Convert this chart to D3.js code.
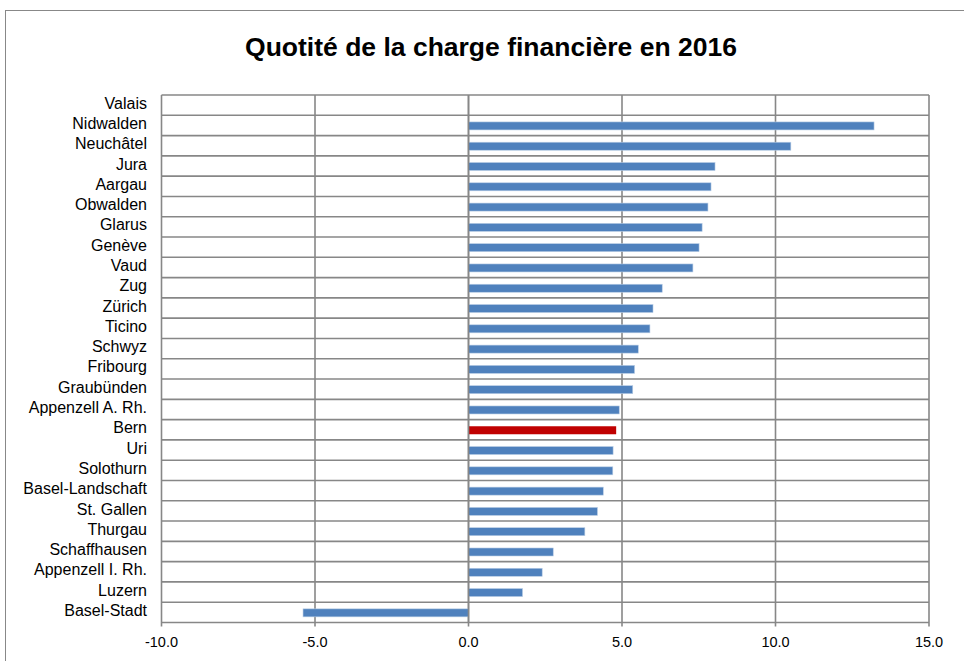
<!DOCTYPE html>
<html><head><meta charset="utf-8">
<script src="https://cdn.jsdelivr.net/npm/d3@7"></script>
<style>body{margin:0;background:#fff}svg{display:block}</style>
</head><body>
<script>
const title = "Quotité de la charge financière en 2016";
const cantons = ["Valais","Nidwalden","Neuchâtel","Jura","Aargau","Obwalden","Glarus","Genève","Vaud","Zug","Zürich","Ticino","Schwyz","Fribourg","Graubünden","Appenzell A. Rh.","Bern","Uri","Solothurn","Basel-Landschaft","St. Gallen","Thurgau","Schaffhausen","Appenzell I. Rh.","Luzern","Basel-Stadt"];
const values = [0,13.21,10.5,8.03,7.9,7.8,7.61,7.51,7.31,6.31,6.01,5.91,5.53,5.41,5.35,4.91,4.81,4.71,4.7,4.39,4.2,3.79,2.76,2.4,1.76,-5.39];
const highlight = ["Bern"];
const xTicks = [-10,-5,0,5,10,15];

const W=964,H=661;
const FONT="Liberation Sans, Arial, sans-serif";
const svg=d3.select("body").append("svg").attr("width",W).attr("height",H);
svg.append("rect").attr("x",5.5).attr("y",10.5).attr("width",W).attr("height",H).attr("fill","#fff").attr("stroke","#888").attr("stroke-width",1);

svg.append("text").attr("x",491).attr("y",56).attr("text-anchor","middle")
  .attr("font-family",FONT).attr("font-weight","bold").attr("font-size",26.5)
  .text(title);

const L=161.5,R=929,T=95,B=622.5;
const x=d3.scaleLinear().domain([-10,15]).range([L,R]);
const y=d3.scaleBand().domain(cantons).range([T,B]);
const gc="#878787";

const g=svg.append("g");
const bounds=d3.range(cantons.length+1).map(i=>T+i*y.step());
g.selectAll(".hg").data(bounds).join("line").attr("x1",L).attr("x2",R).attr("y1",d=>d).attr("y2",d=>d)
  .attr("stroke",gc).attr("stroke-width",1.6);
g.selectAll(".vg").data(xTicks).join("line").attr("x1",d=>x(d)).attr("x2",d=>x(d)).attr("y1",T).attr("y2",B+4)
  .attr("stroke",gc).attr("stroke-width",1.6);

const bh=8;
g.selectAll(".bar").data(cantons).join("rect")
  .attr("x",(d,i)=>x(Math.min(0,values[i])))
  .attr("width",(d,i)=>Math.abs(x(values[i])-x(0)))
  .attr("y",d=>y(d)+y.bandwidth()/2-bh/2+0.5)
  .attr("height",bh)
  .attr("fill",d=>highlight.includes(d)?"#C00000":"#4F81BD")
  .attr("stroke",d=>highlight.includes(d)?"none":"#B9CDE5").attr("stroke-width",0.6);

g.append("line").attr("x1",x(0)).attr("x2",x(0)).attr("y1",T).attr("y2",B).attr("stroke",gc).attr("stroke-width",1.6);

svg.append("g").selectAll("text").data(cantons).join("text")
  .attr("x",147).attr("y",d=>y(d)+y.bandwidth()/2-2).attr("dy","0.35em").attr("text-anchor","end")
  .attr("font-family",FONT).attr("font-size",16).attr("fill","#000")
  .text(d=>d);

svg.append("g").selectAll("text").data(xTicks).join("text")
  .attr("x",d=>x(d)).attr("y",647).attr("text-anchor","middle")
  .attr("font-family",FONT).attr("font-size",14.5).attr("fill","#000")
  .text(d=>d3.format(".1f")(d).replace("\u2212","-"));
</script>
</body></html>
